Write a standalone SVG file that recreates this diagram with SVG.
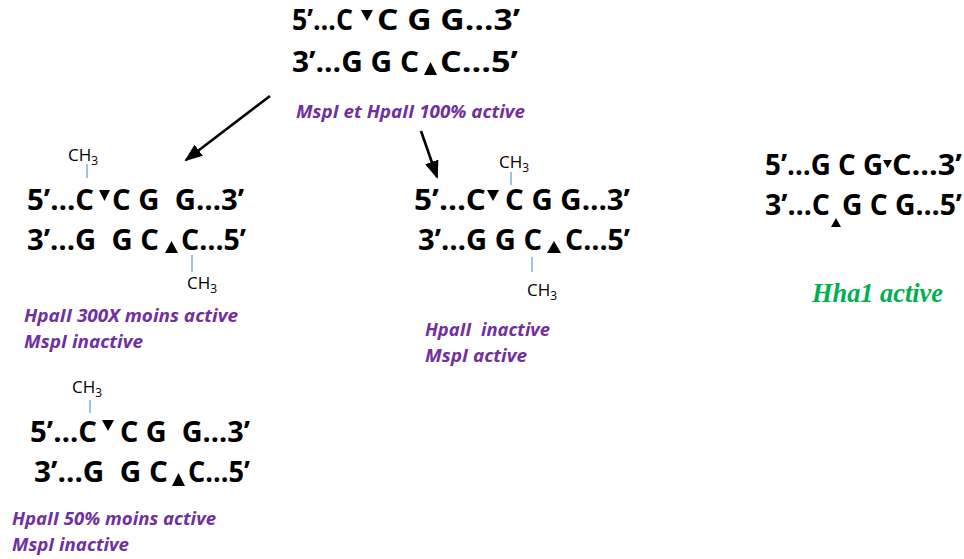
<svg xmlns="http://www.w3.org/2000/svg" width="964" height="559" viewBox="0 0 964 559">
<style>
text{white-space:pre}
.dna{font-family:"Open Sans","Liberation Sans",sans-serif;font-weight:bold;font-size:28px;fill:#000}
.lbl{font-family:"Open Sans","Liberation Sans",sans-serif;font-weight:bold;font-style:italic;font-size:17px;fill:#7030A0}
.ch{font-family:"Open Sans","Liberation Sans",sans-serif;font-size:17px;fill:#000}
.sub{font-size:12px}
.tick{stroke:#5B9BD5;stroke-width:1.2}
.tri{fill:#000}
.arr{stroke:#000;stroke-width:2.6;fill:none}
.grn{font-family:"Liberation Serif",serif;font-weight:bold;font-style:italic;font-size:27px;fill:#00B050}
</style>
<defs>
<marker id="ah" viewBox="0 0 18 14" refX="16" refY="7" markerWidth="18" markerHeight="14" orient="auto" markerUnits="userSpaceOnUse">
<path d="M0,0 L18,7 L0,14 z" fill="#000"/>
</marker>
</defs>
<g id="connectors">
<line class="arr" x1="270" y1="96" x2="186" y2="160" marker-end="url(#ah)"/>
<line class="arr" x1="421" y1="131" x2="437" y2="177" marker-end="url(#ah)"/>
</g>
<g id="top">
<text class="dna" x="292" y="30" textLength="61" lengthAdjust="spacingAndGlyphs">5’…C</text>
<polygon class="tri" points="361,10 373,10 367,21"/>
<text class="dna" x="377" y="30" textLength="143" lengthAdjust="spacingAndGlyphs">C G G…3’</text>
<text class="dna" x="292" y="72" textLength="127" lengthAdjust="spacingAndGlyphs">3’…G G C</text>
<polygon class="tri" points="424,75 437,75 430.5,62"/>
<text class="dna" x="440" y="72" textLength="78" lengthAdjust="spacingAndGlyphs">C…5’</text>
<text class="lbl" x="296" y="118" textLength="229" lengthAdjust="spacingAndGlyphs">MspI et HpaII 100% active</text>
</g>
<g id="left1">
<text class="ch" x="68" y="161">CH<tspan class="sub" dy="4">3</tspan></text>
<line class="tick" x1="87" y1="164" x2="87" y2="178"/>
<text class="dna" x="27" y="210" textLength="67" lengthAdjust="spacingAndGlyphs">5’…C</text>
<polygon class="tri" points="99,190 110,190 104.5,201"/>
<text class="dna" x="112" y="210" textLength="132" lengthAdjust="spacingAndGlyphs">C G  G…3’</text>
<text class="dna" x="27" y="250" textLength="132" lengthAdjust="spacingAndGlyphs">3’…G  G C</text>
<polygon class="tri" points="165,253 178,253 171.5,241"/>
<text class="dna" x="181" y="250" textLength="65" lengthAdjust="spacingAndGlyphs">C…5’</text>
<line class="tick" x1="192" y1="255" x2="192" y2="272"/>
<text class="ch" x="187" y="289">CH<tspan class="sub" dy="4">3</tspan></text>
<text class="lbl" x="24" y="322" textLength="214" lengthAdjust="spacingAndGlyphs">HpaII 300X moins active</text>
<text class="lbl" x="24" y="348" textLength="119" lengthAdjust="spacingAndGlyphs">MspI inactive</text>
</g>
<g id="middle">
<text class="ch" x="499" y="168">CH<tspan class="sub" dy="4">3</tspan></text>
<line class="tick" x1="511" y1="172" x2="511" y2="185"/>
<text class="dna" x="414" y="210" textLength="72" lengthAdjust="spacingAndGlyphs">5’…C</text>
<polygon class="tri" points="487,190 499,190 493,201"/>
<text class="dna" x="505" y="210" textLength="125" lengthAdjust="spacingAndGlyphs">C G G…3’</text>
<text class="dna" x="418" y="250" textLength="124" lengthAdjust="spacingAndGlyphs">3’…G G C</text>
<polygon class="tri" points="547,253 561,253 554,241"/>
<text class="dna" x="565" y="250" textLength="65" lengthAdjust="spacingAndGlyphs">C…5’</text>
<line class="tick" x1="532" y1="257" x2="532" y2="272"/>
<text class="ch" x="527" y="296">CH<tspan class="sub" dy="4">3</tspan></text>
<text class="lbl" x="425" y="336" textLength="125" lengthAdjust="spacingAndGlyphs">HpaII  inactive</text>
<text class="lbl" x="425" y="362" textLength="102" lengthAdjust="spacingAndGlyphs">MspI active</text>
</g>
<g id="right">
<text class="dna" x="765" y="175" textLength="118" lengthAdjust="spacingAndGlyphs">5’…G C G</text>
<polygon class="tri" points="883,160 892,160 887.5,168"/>
<text class="dna" x="892" y="175" textLength="70" lengthAdjust="spacingAndGlyphs">C…3’</text>
<text class="dna" x="765" y="215" textLength="65" lengthAdjust="spacingAndGlyphs">3’…C</text>
<polygon class="tri" points="831,227 841,227 836,218"/>
<text class="dna" x="842" y="215" textLength="120" lengthAdjust="spacingAndGlyphs">G C G…5’</text>
<text class="grn" x="812" y="302" textLength="131" lengthAdjust="spacingAndGlyphs">Hha1 active</text>
</g>
<g id="left2">
<text class="ch" x="72" y="393">CH<tspan class="sub" dy="4">3</tspan></text>
<line class="tick" x1="90" y1="400" x2="90" y2="413"/>
<text class="dna" x="30" y="442" textLength="67" lengthAdjust="spacingAndGlyphs">5’…C</text>
<polygon class="tri" points="102,420 114,420 108,431"/>
<text class="dna" x="120" y="442" textLength="130" lengthAdjust="spacingAndGlyphs">C G  G…3’</text>
<text class="dna" x="34" y="482" textLength="134" lengthAdjust="spacingAndGlyphs">3’…G  G C</text>
<polygon class="tri" points="172,486 185,486 178.5,473"/>
<text class="dna" x="188" y="482" textLength="62" lengthAdjust="spacingAndGlyphs">C…5’</text>
<text class="lbl" x="12" y="525" textLength="204" lengthAdjust="spacingAndGlyphs">HpaII 50% moins active</text>
<text class="lbl" x="12" y="551" textLength="117" lengthAdjust="spacingAndGlyphs">MspI inactive</text>
</g>
</svg>
